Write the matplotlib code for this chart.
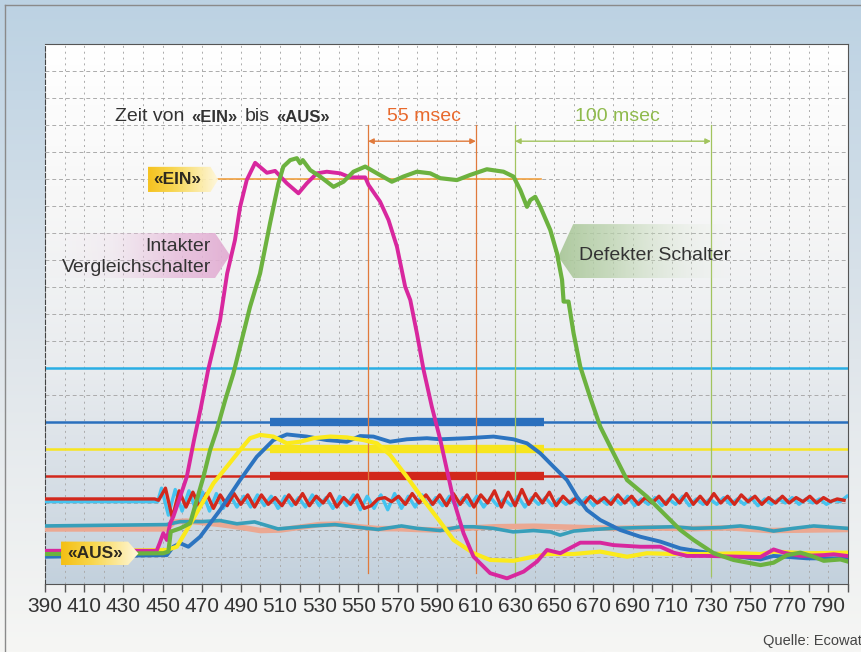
import numpy as np
import matplotlib.pyplot as plt
from matplotlib.patches import Polygon
from matplotlib.colors import to_rgb

plt.rcParams['font.family'] = ['Liberation Sans', 'DejaVu Sans']

# ---- values (x = msec, y = grid units) ----
magenta_x = [390, 447, 448.5, 450.4, 452.2, 453.9, 455.5, 459, 462.4, 466, 469.5, 473.3,
             479.4, 483, 487, 489.6, 493, 497.3, 503.3, 507.5, 513.5, 519.4, 523.7, 528.8,
             533.9, 540.7, 545.8, 553.5, 555.2, 561.1, 565.4, 569.7, 573.9, 576.5, 579.9,
             583.3, 587.5, 591.8, 598.6, 603.7, 608.8, 617.3, 625.9, 634.4, 641.2, 646.3,
             653.1, 663.3, 673.5, 680.3, 694, 704.2, 711, 717.8, 728, 745, 755.3, 762,
             767.2, 775.7, 787.6, 792.7, 799.5]
magenta_y = [1.23, 1.23, 1.5, 1.88, 1.63, 2.25, 2.49, 3.23, 3.97, 5.3, 6.5, 7.93,
             9.78, 11.5, 12.74, 13.96, 14.96, 15.6, 15.23, 15.3, 14.84, 14.47, 14.84, 15.21,
             15.27, 15.21, 15.06, 15.06, 14.78, 14.16, 13.48, 12.49, 11.01, 10.52, 9.28,
             7.93, 6.57, 5.35, 3.11, 1.88, 1.01, 0.4, 0.21, 0.46, 0.83, 1.26,
             1.14, 1.53, 1.53, 1.44, 1.38, 1.38, 1.16, 1.04, 1.04, 1.01, 1.0, 1.28,
             1.16, 1.04, 1.07, 1.1, 1.04]

green_x = [390, 450.4, 453, 454.2, 459, 464.1, 467.5, 470.9, 474.3, 477.7, 482, 486.2,
           494.7, 499.8, 504.9, 509.2, 511.7, 515.2, 518.6, 520.3, 521.6, 525.4, 530.5,
           537.3, 542.4, 547.5, 553.5, 559.5, 567.1, 573, 579.9, 586.7, 591.8, 600.3,
           607.1, 615.6, 624.1, 629.2, 632.7, 636.1, 637.8, 640.3, 642.9, 648, 651.4,
           654, 654.8, 657.3, 659.9, 663.3, 668.4, 673.5, 680.3, 687.2, 697.4, 707.6,
           714.4, 721.2, 731.4, 741.6, 755.3, 762, 768.8, 775.7, 782.5, 787.6, 796.1, 800]
green_y = [1.11, 1.14, 1.2, 1.94, 2.06, 2.25, 3.11, 3.97, 4.96, 5.7, 6.81, 7.8,
           10.27, 11.5, 13.36, 14.84, 15.46, 15.7, 15.77, 15.58, 15.7, 15.33, 15.09,
           14.71, 14.9, 15.27, 15.46, 15.21, 14.9, 15.09, 15.27, 15.21, 15.03, 14.96,
           15.15, 15.36, 15.27, 15.09, 14.59, 13.97, 14.22, 14.34, 13.97, 13.11, 12.25,
           11.26, 10.46, 10.46, 9.28, 8.05, 6.9, 5.83, 4.84, 3.85, 3.23, 2.49,
           2.0, 1.63, 1.14, 0.89, 0.7, 0.79, 1.07, 1.16, 1.01, 0.86, 0.91, 0.83]

yellow_x = [390, 452.2, 457.3, 462.4, 469.2, 476, 482.8, 489.6, 494.7, 499.8, 506.6,
            513.5, 520.3, 527.1, 535.6, 544.1, 552.6, 559.5, 566.2, 574.8, 583.3, 591.8,
            598.6, 608.8, 617.3, 629.2, 639.4, 646.3, 659.9, 673.5, 687.2, 697.4, 711,
            728, 745, 755.3, 762, 779.2, 799.5]
yellow_y = [1.2, 1.26, 1.38, 2.0, 2.86, 3.73, 4.34, 4.96, 5.4, 5.52, 5.46,
            5.21, 5.27, 5.4, 5.46, 5.43, 5.33, 5.21, 4.78, 3.97, 3.11, 2.3,
            1.63, 1.14, 0.89, 0.86, 1.01, 1.11, 1.11, 1.2, 1.01, 1.14, 1.11,
            1.11, 1.14, 1.11, 1.2, 1.14, 1.16]

blue_x = [390, 452.2, 455.5, 459, 463.2, 469.2, 479.4, 489.6, 498.1, 506.6, 513.5,
          523.7, 533.9, 544.1, 550.9, 557.7, 566.2, 574.8, 585, 591.8, 605.4, 619,
          629.2, 636.1, 642.9, 649.7, 656.5, 661.6, 666.7, 673.5, 683.7, 694, 704.2,
          714.4, 724.6, 738.2, 755.3, 762, 779.2, 800]
blue_y = [1.01, 1.07, 1.38, 1.51, 1.38, 1.75, 2.74, 3.85, 4.71, 5.33, 5.54,
          5.46, 5.33, 5.27, 5.48, 5.46, 5.27, 5.36, 5.4, 5.36, 5.4, 5.46,
          5.36, 5.21, 4.84, 4.34, 3.85, 3.23, 2.74, 2.37, 2.0, 1.75, 1.57,
          1.32, 1.2, 1.07, 0.91, 1.04, 0.95, 0.95]

teal_x = [390, 452, 459, 470, 479.4, 488, 497, 509, 515, 526, 538, 550, 560, 572,
          580, 591.8, 601.9, 608.8, 619, 629, 639.4, 648, 653, 660, 670, 680, 694,
          711, 721, 735, 745, 755, 762, 772, 782.5, 800]
teal_y = [2.15, 2.2, 2.31, 2.31, 2.35, 2.23, 2.3, 2.04, 2.08, 2.15, 2.2, 2.1, 2.02,
          2.15, 2.06, 1.98, 2.12, 2.12, 2.06, 1.93, 1.98, 1.93, 1.81, 1.96, 2.02, 2.06, 2.09,
          2.12, 2.06, 2.09, 2.15, 2.06, 1.96, 2.06, 2.15, 2.06]

salmon_x = [390, 452, 456, 462, 470, 480, 490, 500, 510, 520, 530, 540, 550, 560, 570,
            580, 590, 600, 620, 640, 660, 680, 700, 720, 740, 760, 780, 800]
salmon_y = [2.04, 2.04, 2.3, 2.33, 2.28, 2.2, 2.1, 1.98, 2.0, 2.1, 2.2, 2.22, 2.12, 2.05,
            2.05, 2.02, 2.0, 2.05, 2.12, 2.14, 2.1, 2.06, 2.08, 2.05, 2.08, 1.98, 2.0, 2.02]

# noisy traces: flat until the switch event, then one sample every 3.5 msec
red_base = 3.15
red_quiet_until = 446
red_start = 448
red_noise = [3.10, 3.55, 2.45, 3.45, 2.85, 3.40, 2.85, 3.35, 2.80, 3.30,
             2.90, 3.35, 2.95, 3.30, 2.85, 3.30, 2.95, 3.20, 2.90, 3.30,
             2.95, 3.35, 2.90, 3.25, 3.00, 3.35, 2.85, 3.20, 2.95, 3.30,
             2.80, 2.90, 3.15, 3.20, 3.05, 3.25, 2.95, 3.35, 3.00, 3.30,
             2.95, 3.30, 2.90, 3.35, 2.95, 3.30, 2.85, 3.30, 3.00, 3.45,
             2.85, 3.40, 2.90, 3.50, 2.95, 3.35, 3.00, 3.40, 2.90, 3.25,
             3.00, 3.20, 2.95, 3.25, 3.00, 3.20, 2.95, 3.30, 3.00, 3.25,
             2.95, 3.20, 3.00, 3.25, 2.95, 3.30, 3.00, 3.35, 2.95, 3.25,
             2.95, 3.35, 3.00, 3.25, 2.95, 3.30, 3.05, 3.25, 2.95, 3.20,
             3.00, 3.25, 3.00, 3.20, 3.05, 3.25, 3.00, 3.20, 3.05, 3.15,
             3.10]
cyan_base = 3.05
cyan_quiet_until = 447.5
cyan_start = 449.5
cyan_noise = [3.55, 2.55, 3.50, 2.70, 3.45, 2.75, 3.40, 2.70, 3.35, 2.80,
              3.30, 2.85, 3.25, 2.85, 3.30, 2.90, 3.25, 2.80, 3.25, 2.90,
              3.20, 2.85, 3.30, 2.90, 3.20, 2.80, 3.25, 2.90, 3.30, 2.75,
              3.25, 2.80, 3.30, 2.75, 3.35, 2.80, 3.25, 2.85, 3.30, 2.85,
              3.20, 2.90, 3.25, 2.85, 3.20, 2.90, 3.25, 2.85, 3.20, 2.90,
              3.15, 2.90, 3.25, 2.85, 3.20, 2.95, 3.20, 2.90, 3.15, 2.95,
              3.15, 2.95, 3.20, 2.90, 3.15, 2.95, 3.20, 2.95, 3.25, 2.90,
              3.15, 2.95, 3.20, 2.90, 3.15, 2.95, 3.25, 2.90, 3.15, 2.95,
              3.15, 2.95, 3.20, 2.95, 3.15, 2.95, 3.20, 2.90, 3.15, 2.95,
              3.15, 3.00, 3.20, 2.95, 3.15, 3.00, 3.15, 2.95, 3.10, 3.05,
              3.25]

# horizontal reference levels
cyan_level = 8
blue_level = 6
yellow_level = 5
red_level = 4
ein_level = 15
ein_from, ein_to = 478, 643
bar_from, bar_to = 505, 645

# timing markers
t55 = (555, 610)
t100 = (630, 730)
tick_labels = list(range(390, 791, 20))


def ramp(stops, n=256):
    pos = np.linspace(0, 1, n)
    ps = [p for p, _ in stops]
    cols = np.array([to_rgb(c) for _, c in stops])
    return np.stack([np.interp(pos, ps, cols[:, k]) for k in range(3)], axis=-1)


def gradient_box(ax, verts, col_stops, alpha_stops, z):
    rgb = ramp(col_stops)
    pos = np.linspace(0, 1, rgb.shape[0])
    a = np.interp(pos, [p for p, _ in alpha_stops], [v for _, v in alpha_stops])
    img = np.concatenate([rgb, a[:, None]], axis=-1)[None, :, :]
    xs = [v[0] for v in verts]
    ys = [v[1] for v in verts]
    im = ax.imshow(img, extent=[min(xs), max(xs), min(ys), max(ys)], origin='lower',
                   aspect='auto', zorder=z, interpolation='bilinear')
    poly = Polygon(verts, closed=True, facecolor='none', edgecolor='none', zorder=z)
    ax.add_patch(poly)
    im.set_clip_path(poly)


fig = plt.figure(figsize=(8.61, 6.52), dpi=100)

# page background (blue at the top, fading out)
bg = fig.add_axes([0, 0, 1, 1], zorder=-10)
bg.axis('off')
page = ramp([(0, '#f6f6f4'), (0.45, '#e0e6eb'), (1, '#bcd2e3')])[:, None, :]
bg.imshow(page, extent=[0, 1, 0, 1], origin='lower', aspect='auto')
bg.plot([5 / 861, 5 / 861], [0, 1 - 5 / 652], color='#8a8a8a', lw=1)
bg.plot([5 / 861, 1], [1 - 5 / 652, 1 - 5 / 652], color='#8a8a8a', lw=1)
bg.set_xlim(0, 1)
bg.set_ylim(0, 1)

ax = fig.add_axes([45 / 861, 1 - 584 / 652, (848 - 45) / 861, 540 / 652])
area = ramp([(0, '#c3d1dd'), (0.15, '#d3dce4'), (0.4, '#e9ecef'), (0.7, '#f7f7f7'),
             (1, '#ffffff')])[:, None, :]
ax.imshow(area, extent=[390, 800, 0, 20], origin='lower', aspect='auto', zorder=0)

# reference lines
ax.plot([390, 800], [cyan_level] * 2, color='#2aaee4', lw=1.8, zorder=2)
ax.plot([390, 800], [blue_level] * 2, color='#2a6fbd', lw=1.8, zorder=2)
ax.plot([390, 800], [yellow_level] * 2, color='#f7e51e', lw=1.8, zorder=2)
ax.plot([390, 800], [red_level] * 2, color='#d2281c', lw=1.8, zorder=2)
ax.plot([bar_from, bar_to], [blue_level] * 2, color='#2a6fbd', lw=6, zorder=2,
        solid_capstyle='butt')
ax.plot([bar_from, bar_to], [yellow_level] * 2, color='#f7e51e', lw=6, zorder=2,
        solid_capstyle='butt')
ax.plot([bar_from, bar_to], [red_level] * 2, color='#d2281c', lw=6, zorder=2,
        solid_capstyle='butt')
ax.plot([ein_from, ein_to], [ein_level] * 2, color='#f0a040', lw=1.2, zorder=2)

# timing markers
for t in t55:
    ax.plot([t, t], [0.4, 17.0], color='#e07a3c', lw=0.9, zorder=2.2)
for t in t100:
    ax.plot([t, t], [0.3, 17.0], color='#a2c45e', lw=0.9, zorder=2.2)
ax.annotate('', xy=(t55[0], 16.4), xytext=(t55[1], 16.4),
            arrowprops=dict(arrowstyle='<|-|>', color='#e07a3c', lw=1,
                            mutation_scale=8, shrinkA=0, shrinkB=0), zorder=2.2)
ax.annotate('', xy=(t100[0], 16.4), xytext=(t100[1], 16.4),
            arrowprops=dict(arrowstyle='<|-|>', color='#a2c45e', lw=1,
                            mutation_scale=8, shrinkA=0, shrinkB=0), zorder=2.2)

# measured traces
red_t = red_start + 3.5 * np.arange(len(red_noise))
cyan_t = cyan_start + 3.5 * np.arange(len(cyan_noise))
ax.plot(salmon_x, salmon_y, color='#eba892', lw=4, zorder=3)
ax.plot(teal_x, teal_y, color='#379fba', lw=2.6, zorder=3.1)
ax.plot([390, cyan_quiet_until] + list(cyan_t), [cyan_base, cyan_base] + cyan_noise,
        color='#45c3ef', lw=2.4, zorder=3.2)
ax.plot([390, red_quiet_until] + list(red_t), [red_base, red_base] + red_noise,
        color='#d2281c', lw=2.4, zorder=3.3)
ax.plot(blue_x, blue_y, color='#2c74c0', lw=2.8, zorder=3.4)
ax.plot(yellow_x, yellow_y, color='#fbea1c', lw=3, zorder=3.5)
ax.plot(magenta_x, magenta_y, color='#d8279e', lw=2.8, zorder=3.6)
ax.plot(green_x, green_y, color='#6cb23f', lw=3, zorder=3.7)

# label plates
gradient_box(ax, [(391.5, 11.33), (476.8, 11.33), (484.5, 12.17), (476.8, 13.0), (391.5, 13.0)],
             [(0, '#f0d8ea'), (1, '#e2aed3')], [(0, 0), (0.35, 0.2), (0.7, 0.8), (1, 0.95)], 2.5)
gradient_box(ax, [(652.1, 12.12), (659.7, 13.33), (740, 13.33), (740, 11.33), (659.7, 11.33)],
             [(0, '#aac79a'), (1, '#dbe8d2')], [(0, 0.95), (0.3, 0.75), (0.75, 0.2), (1, 0)], 2.5)
gradient_box(ax, [(442.6, 14.52), (474.5, 14.52), (478.5, 14.98), (474.5, 15.45), (442.6, 15.45)],
             [(0, '#f5c21e'), (0.35, '#f8d54a'), (1, '#fff8dc')], [(0, 1), (1, 0.9)], 5)
gradient_box(ax, [(398.2, 0.70), (432.4, 0.70), (437.7, 1.13), (432.4, 1.57), (398.2, 1.57)],
             [(0, '#f4bf14'), (0.4, '#f8d64c'), (1, '#fff8dc')], [(0, 1), (1, 1)], 5)

dark = '#333333'
ax.text(457.5, 15.0, '«EIN»', fontsize=12.5, fontweight='bold', color='#2e2a20',
        ha='center', va='center', zorder=6)
ax.text(415.5, 1.13, '«AUS»', fontsize=12.5, fontweight='bold', color='#2e2a20',
        ha='center', va='center', zorder=6)
ax.text(474.8, 12.12, 'Intakter\nVergleichschalter', fontsize=14, color=dark,
        ha='right', va='center', multialignment='right', linespacing=1.3, zorder=6)
ax.text(662.8, 12.15, 'Defekter Schalter', fontsize=14, color=dark,
        ha='left', va='center', zorder=6)

t1 = ax.text(425.8, 17.0, 'Zeit von', fontsize=14, color=dark, va='bottom', zorder=6)
t2 = ax.annotate('«EIN»', xy=(1, 0), xycoords=t1, xytext=(5, 0), textcoords='offset points',
                 fontsize=12, fontweight='bold', color=dark, va='bottom', zorder=6)
t3 = ax.annotate('bis', xy=(1, 0), xycoords=t2, xytext=(5, 0), textcoords='offset points',
                 fontsize=14, color=dark, va='bottom', zorder=6)
ax.annotate('«AUS»', xy=(1, 0), xycoords=t3, xytext=(5, 0), textcoords='offset points',
            fontsize=12, fontweight='bold', color=dark, va='bottom', zorder=6)
ax.text(583.6, 17.0, '55 msec', fontsize=14, color='#e8692c', ha='center', va='bottom', zorder=6)
ax.text(682.2, 17.0, '100 msec', fontsize=14, color='#8fba4c', ha='center', va='bottom', zorder=6)

# axes styling
ax.set_xlim(390, 800)
ax.set_ylim(0, 20)
ax.set_xticks(tick_labels)
ax.set_xticks(np.arange(400, 801, 20), minor=True)
ax.tick_params(axis='x', which='both', direction='out', length=6, width=1, color='#555555',
               labelsize=15, labelcolor=dark, pad=3)
ax.set_yticks(np.arange(0, 21, 1))
ax.tick_params(axis='y', length=0, labelleft=False)
ax.grid(True, axis='x', which='both', color='#ababab', lw=0.7, ls=(0, (2, 4)))
ax.grid(True, axis='y', which='major', color='#ababab', lw=0.7, ls=(0, (4, 3)))
ax.set_axisbelow(True)
for side in ['top', 'right', 'bottom']:
    ax.spines[side].set_color('#555555')
ax.spines['left'].set_color('#444444')
ax.spines['left'].set_linestyle((0, (4, 2)))

fig.text(763 / 861, 1 - 641 / 652, 'Quelle: Ecowat', fontsize=10.5, color='#444444',
         ha='left', va='center')

fig.savefig('out.png', dpi=100)
